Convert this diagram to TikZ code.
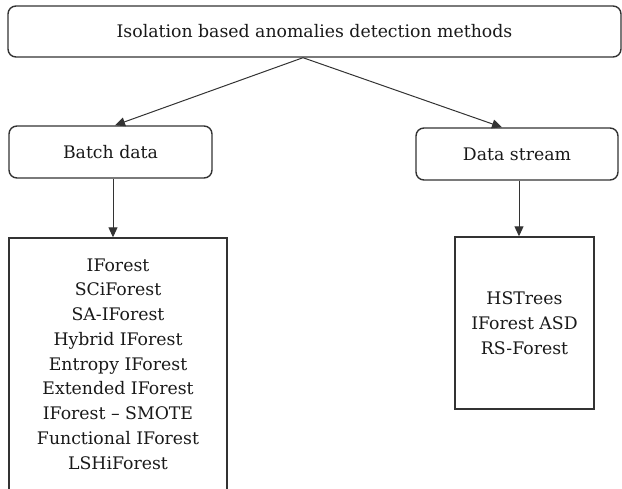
\documentclass[tikz,border=0pt]{standalone}
\usepackage{fontspec}
\setmainfont{DejaVu Serif}
\usetikzlibrary{arrows.meta}
\begin{document}
\begin{tikzpicture}[x=1pt,y=-1pt,
  every node/.style={font=\fontsize{17.3}{24.75}\selectfont, text=black!90},
  roundbox/.style={draw=black!80, line width=1.4pt, rounded corners=8pt, inner sep=0pt},
  listbox/.style={draw=black!80, line width=1.4pt, inner sep=0pt},
  conn/.style={draw=black!80, line width=1pt, -{Triangle[length=10pt,width=9pt]}}]
\useasboundingbox (0,0) rectangle (622,489);
\clip (0,0) rectangle (622,489);
\node[roundbox, minimum width=613pt, minimum height=51pt] (top) at (314.5,31.5) {Isolation based anomalies detection methods};
\node[roundbox, minimum width=203pt, minimum height=52pt] (batch) at (110.5,152) {Batch data};
\node[roundbox, minimum width=202pt, minimum height=52pt] (stream) at (517,154) {Data stream};
\node[listbox, minimum width=218pt, minimum height=282pt] (batchbox) at (118,379) {};
\node[align=center, inner sep=0pt] (batchnames) at (118,364) {IForest\\SCiForest\\SA-IForest\\Hybrid IForest\\Entropy IForest\\Extended IForest\\IForest -- SMOTE\\Functional IForest\\LSHiForest};
\node[listbox, minimum width=139pt, minimum height=172pt, align=center] (streambox) at (524.5,323) {HSTrees\\IForest ASD\\RS-Forest};
\draw[conn] ([xshift=-11.5pt]top.south) -- ([xshift=4.5pt]batch.north);
\draw[conn] ([xshift=-11.5pt]top.south) -- ([xshift=-15pt]stream.north);
\draw[conn] ([xshift=2.5pt]batch.south) -- ([xshift=-5pt]batchbox.north);
\draw[conn] ([xshift=2pt]stream.south) -- ([xshift=-5.5pt]streambox.north);
\end{tikzpicture}
\end{document}
